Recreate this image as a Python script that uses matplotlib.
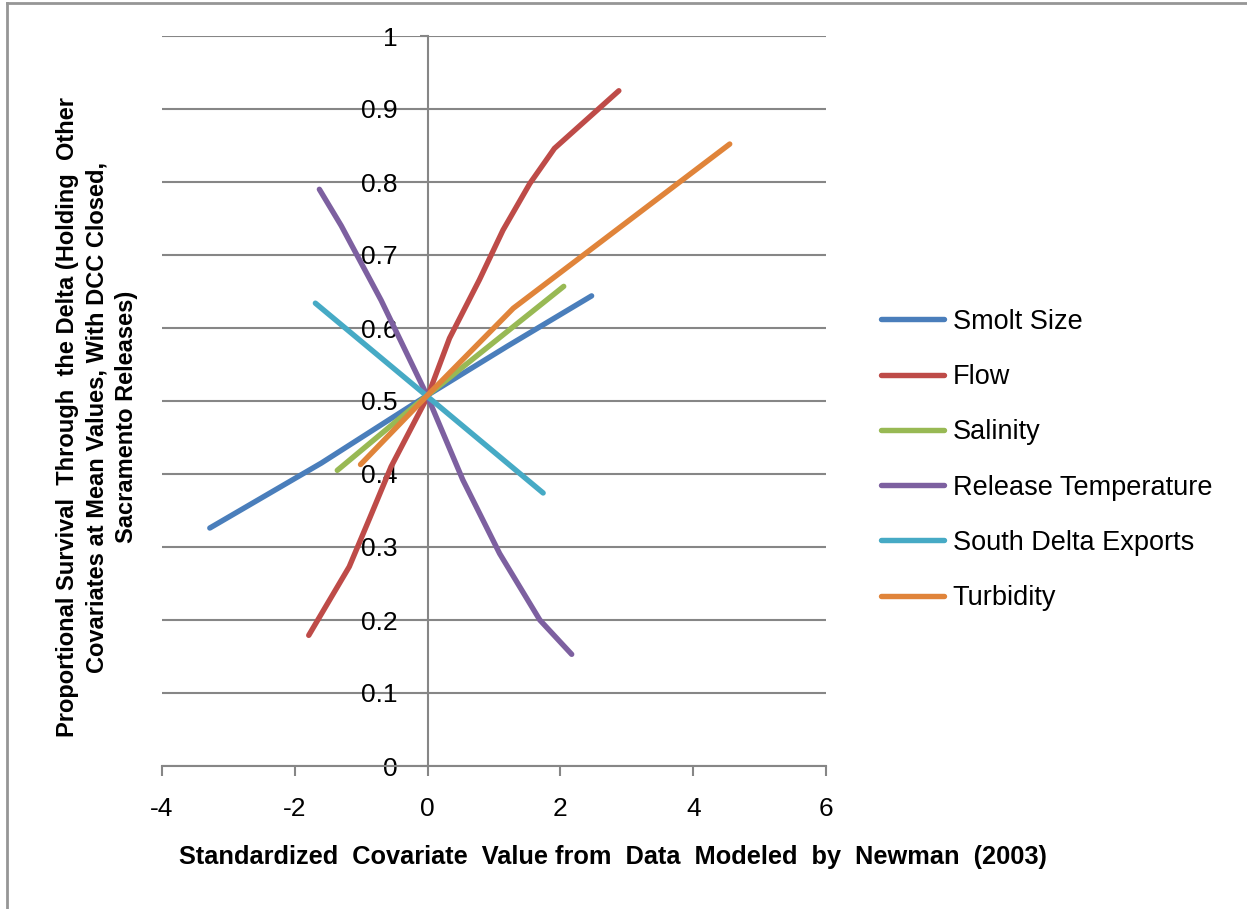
import matplotlib.pyplot as plt
from matplotlib.lines import Line2D

# values
smolt_x = [-3.28, -1.6, 0.0, 1.2, 2.47]
smolt_y = [0.326, 0.415, 0.508, 0.575, 0.644]

flow_x = [-1.79, -1.18, -0.87, -0.55, 0.0, 0.33, 0.78, 1.135, 1.54, 1.91, 2.88]
flow_y = [0.179, 0.273, 0.34, 0.41, 0.506, 0.586, 0.666, 0.734, 0.798, 0.846, 0.925]

sal_x = [-1.36, 0.0, 2.05]
sal_y = [0.405, 0.508, 0.657]

temp_x = [-1.63, -1.3, -0.7, 0.0, 0.53, 1.085, 1.69, 2.17]
temp_y = [0.79, 0.74, 0.638, 0.506, 0.392, 0.291, 0.20, 0.153]

exp_x = [-1.69, 0.0, 1.74]
exp_y = [0.634, 0.506, 0.374]

turb_x = [-1.01, 0.0, 1.29, 4.55]
turb_y = [0.413, 0.508, 0.627, 0.852]

names = ['Smolt Size', 'Flow', 'Salinity', 'Release Temperature',
         'South Delta Exports', 'Turbidity']
colors = ['#4A7EBB', '#BE4B48', '#98B954', '#7D60A0', '#46AAC5', '#E0843A']

xticks = [-4, -2, 0, 2, 4, 6]
yticks = [0, 0.1, 0.2, 0.3, 0.4, 0.5, 0.6, 0.7, 0.8, 0.9, 1]

plt.rcParams['font.family'] = ['Liberation Sans', 'DejaVu Sans']

fig = plt.figure(figsize=(12.47, 9.09), dpi=100)
ax = fig.add_axes([162/1247, 1-766/909, (826-162)/1247, (766-36)/909])

series = [(smolt_x, smolt_y), (flow_x, flow_y), (sal_x, sal_y),
          (temp_x, temp_y), (exp_x, exp_y), (turb_x, turb_y)]
for (xs, ys), name, c in zip(series, names, colors):
    ax.plot(xs, ys, color=c, lw=3.9, solid_capstyle='round',
            solid_joinstyle='round', label=name, zorder=3)

ax.set_xlim(-4, 6)
ax.set_ylim(0, 1)
ax.set_xticks(xticks)
ax.set_xticklabels([str(t) for t in xticks])
ax.set_yticks(yticks)
ax.set_yticklabels(['0'] + ['%.1f' % t for t in yticks[1:-1]] + ['1'])
ax.grid(axis='y', color='#868686', lw=1.5, zorder=1)
for s in ['top', 'right']:
    ax.spines[s].set_visible(False)
ax.spines['left'].set_position(('data', 0))
for s in ['left', 'bottom']:
    ax.spines[s].set_color('#868686')
    ax.spines[s].set_linewidth(1.5)
ax.tick_params(axis='x', direction='out', length=7, width=1.5, color='#868686',
               labelsize=19, pad=15)
ax.tick_params(axis='y', direction='out', length=6, width=1.5, color='#868686',
               labelsize=19, pad=15.5)

fig.text(613/1247, 1-857/909,
         'Standardized  Covariate  Value from  Data  Modeled  by  Newman  (2003)',
         ha='center', va='center', fontsize=18.3, fontweight='bold')
fig.text(97/1247, 1-417/909,
         'Proportional Survival  Through  the Delta (Holding  Other\n'
         'Covariates at Mean Values, With DCC Closed,\n'
         'Sacramento Releases)',
         rotation=90, ha='center', va='center', fontsize=17,
         fontweight='bold', linespacing=1.35)

leg = ax.legend(loc='upper left', bbox_to_anchor=(870/1247, 1-298/909),
                bbox_transform=fig.transFigure, frameon=False, fontsize=19.5,
                handlelength=2.35, handletextpad=0.3, labelspacing=1.08,
                borderaxespad=0)

# outer chart border
fig.add_artist(Line2D([7/1247, 1], [1-3/909, 1-3/909], color='#969696', lw=2,
                      transform=fig.transFigure))
fig.add_artist(Line2D([7/1247, 7/1247], [0, 1-3/909], color='#969696', lw=2,
                      transform=fig.transFigure))

fig.savefig('out.png', dpi=100)
